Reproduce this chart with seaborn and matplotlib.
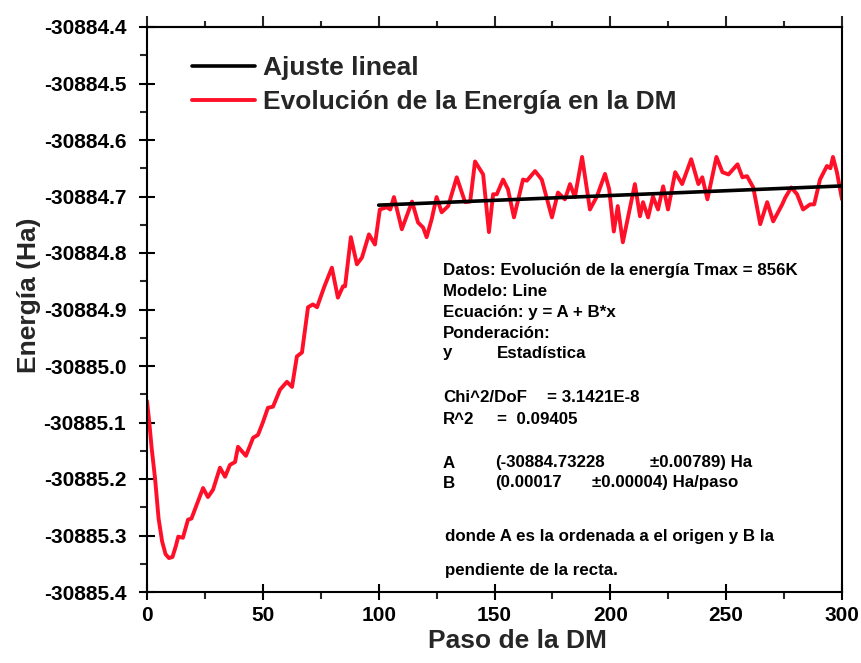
import matplotlib
matplotlib.use("Agg")
import matplotlib.pyplot as plt
import seaborn as sns
import numpy as np
import pandas as pd
from matplotlib.ticker import MultipleLocator, FormatStrFormatter

# ---------------- data ----------------
base_energia = -30885.0
paso = [0, 1, 2, 3.5, 5, 6.5, 8, 9.5, 11, 12.5, 13.5, 15.5, 17.7, 19.2, 21.5,
        24.2, 26.3, 28.5, 31.5, 33.7, 35.8, 38, 39.3, 42.7, 45.8, 47.9, 50,
        52.2, 54.4, 57.4, 60.4, 62.6, 64.7, 66.9, 69.5, 71.6, 73.4, 76.5,
        79.8, 82.4, 84.6, 85.5, 88, 90.6, 92.8, 95.8, 98.4, 100.5, 103.5,
        105, 106.6, 110, 114.4, 117, 119.2, 120.7, 122.9, 125, 127.2, 130,
        133.7, 137.3, 139.5, 141.6, 145.1, 147.6, 149.4, 151, 153.7, 155.8,
        158.4, 162.3, 164, 167.5, 170.4, 174.8, 177.4, 180.4, 182.6, 184.7,
        187.8, 191.2, 194.2, 197.7, 199.5, 201.5, 203.2, 205.4, 210.6, 212.8,
        214.1, 216.3, 218.4, 220.6, 222.8, 224.9, 228, 231, 234.9, 238,
        239.7, 241.9, 245.8, 248.4, 251, 254.9, 257, 259, 261.7, 264.7,
        267.7, 270.3, 274.2, 275.5, 278.1, 280.6, 283.2, 286.2, 288, 290.5,
        293.5, 295, 296.1, 297.8, 300]
energia_rel = [-0.062, -0.10, -0.145, -0.20, -0.27, -0.31, -0.333, -0.340,
               -0.338, -0.318, -0.302, -0.304, -0.272, -0.270, -0.245, -0.216,
               -0.232, -0.219, -0.180, -0.196, -0.175, -0.170, -0.143, -0.159,
               -0.127, -0.122, -0.100, -0.074, -0.072, -0.042, -0.028, -0.037,
               0.017, 0.024, 0.104, 0.109, 0.104, 0.140, 0.174, 0.121, 0.141,
               0.141, 0.228, 0.180, 0.192, 0.233, 0.215, 0.277, 0.281, 0.277,
               0.299, 0.242, 0.291, 0.254, 0.245, 0.228, 0.260, 0.299, 0.272,
               0.283, 0.334, 0.290, 0.291, 0.362, 0.339, 0.237, 0.304, 0.304,
               0.330, 0.313, 0.263, 0.330, 0.328, 0.345, 0.330, 0.263, 0.307,
               0.295, 0.322, 0.299, 0.370, 0.277, 0.300, 0.340, 0.313, 0.238,
               0.283, 0.219, 0.322, 0.265, 0.290, 0.263, 0.300, 0.277, 0.318,
               0.277, 0.343, 0.322, 0.366, 0.322, 0.334, 0.295, 0.370, 0.343,
               0.339, 0.357, 0.334, 0.336, 0.316, 0.251, 0.290, 0.256, 0.286,
               0.298, 0.316, 0.304, 0.277, 0.286, 0.286, 0.330, 0.354, 0.350,
               0.370, 0.343, 0.295]
A_fit = -30884.73228
B_fit = 0.00017
rango_ajuste = [100, 300]

x_ticks_major = 50
x_ticks_minor = 25
y_ticks_major = 0.1
y_ticks_minor = 0.05

# ---------------- figure ----------------
sns.set_style("ticks")
plt.rcParams["font.family"] = ["Liberation Sans", "DejaVu Sans"]
plt.rcParams["font.weight"] = "bold"

fig = plt.figure(figsize=(8.61, 6.63), dpi=100)
ax = fig.add_axes([147 / 861, 1 - 592 / 663, (842 - 147) / 861, (592 - 27) / 663])

df = pd.DataFrame({"paso": paso,
                   "energia": [base_energia + v for v in energia_rel]})
sns.lineplot(data=df, x="paso", y="energia", ax=ax, color="#ff1028",
             linewidth=2.8, sort=False, estimator=None,
             solid_joinstyle="round", solid_capstyle="round")

xf = np.array(rango_ajuste, dtype=float)
df_fit = pd.DataFrame({"paso": xf, "energia": A_fit + B_fit * xf})
sns.lineplot(data=df_fit, x="paso", y="energia", ax=ax, color="black",
             linewidth=2.6, estimator=None)

ax.set_xlim(0, 300)
ax.set_ylim(-30885.4, -30884.4)
ax.xaxis.set_major_locator(MultipleLocator(x_ticks_major))
ax.xaxis.set_minor_locator(MultipleLocator(x_ticks_minor))
ax.yaxis.set_major_locator(MultipleLocator(y_ticks_major))
ax.yaxis.set_minor_locator(MultipleLocator(y_ticks_minor))
ax.yaxis.set_major_formatter(FormatStrFormatter("%.1f"))
ax.xaxis.set_major_formatter(FormatStrFormatter("%d"))

for s in ax.spines.values():
    s.set_visible(True)
    s.set_linewidth(1.5)
    s.set_color("black")

ax.tick_params(which="major", direction="inout", length=12, width=1.5,
               labelsize=15, colors="black")
ax.tick_params(axis="y", which="major", pad=9)
ax.tick_params(axis="x", which="major", pad=4)
ax.tick_params(which="minor", direction="out", length=5, width=1.5)
for lab in ax.get_xticklabels() + ax.get_yticklabels():
    lab.set_fontweight("bold")

sec = ax.secondary_xaxis("top")
sec.xaxis.set_major_locator(MultipleLocator(x_ticks_major))
sec.xaxis.set_minor_locator(MultipleLocator(x_ticks_minor))
sec.tick_params(which="major", direction="out", length=8, width=1.5,
                labeltop=False)
sec.tick_params(which="minor", direction="out", length=4, width=1.5)
sec.spines["top"].set_linewidth(1.5)

ax.set_xlabel("Paso de la DM", fontsize=19, fontweight="bold",
              va="center")
ax.set_ylabel("Energía (Ha)", fontsize=19, fontweight="bold",
              va="center")
ax.xaxis.set_label_coords((517 - 147) / 695, (592 - 641) / 565)
ax.yaxis.set_label_coords((29 - 147) / 695, (592 - 295) / 565)

h_red = ax.lines[0]
h_blk = ax.lines[1]
leg = ax.legend([h_blk, h_red],
                ["Ajuste lineal", "Evolución de la Energía en la DM"],
                loc="upper left", bbox_to_anchor=(192 / 861, 1 - 56 / 663),
                bbox_transform=fig.transFigure, frameon=False,
                prop={"size": 19, "weight": "bold"}, handlelength=2.4,
                handletextpad=0.3, labelspacing=0.38, borderpad=0,
                borderaxespad=0)

# ---------------- fit report text ----------------
fs = 12.2


def put(x, y, s):
    fig.text(x / 861, 1 - y / 663, s, fontsize=fs, fontweight="bold",
             va="center", ha="left", color="black")


put(443, 270, "Datos: Evolución de la energía Tmax = 856K")
put(443, 291, "Modelo: Line")
put(443, 312, "Ecuación: y = A + B*x")
put(443, 333, "Ponderación:")
put(443, 353, "y")
put(497, 353, "Estadística")
put(443, 398, "Chi^2/DoF")
put(547, 398, "= 3.1421E-8")
put(443, 419, "R^2")
put(497, 419, "=  0.09405")
put(443, 463, "A")
put(495, 463, "(-30884.73228")
put(650, 463, "±0.00789) Ha")
put(443, 483, "B")
put(495, 483, "(0.00017")
put(592, 483, "±0.00004) Ha/paso")
put(445, 536, "donde A es la ordenada a el origen y B la")
put(445, 571, "pendiente de la recta.")

fig.savefig("out.png", dpi=100)
